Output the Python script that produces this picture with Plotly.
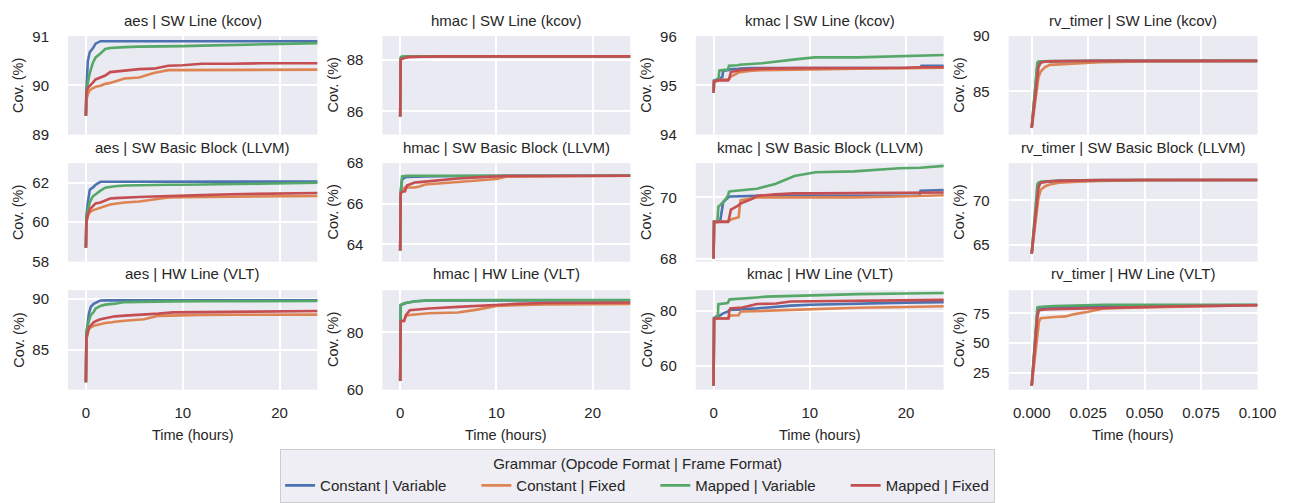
import plotly.graph_objects as go

W, H = 1311, 503

SERIES = ["Constant | Variable", "Constant | Fixed", "Mapped | Variable", "Mapped | Fixed"]
COLORS = ["#4C72B0", "#DD8452", "#55A868", "#C44E52"]
TARGETS = ["aes", "hmac", "kmac", "rv_timer"]
METRICS = ["SW Line (kcov)", "SW Basic Block (LLVM)", "HW Line (VLT)"]
X_TICKS_HOURS = [0, 10, 20]
X_TICKS_RV = [0.0, 0.025, 0.05, 0.075, 0.1]

# ---------------- Row 1: SW Line (kcov) ----------------
T_AES_KCOV = [0, 0.05, 0.2, 0.4, 0.7, 1.0, 1.5, 2, 2.5, 3, 4, 5.5, 7, 8.5, 10, 12, 15, 18, 24]
AES_KCOV_CV = [89.38, 89.9, 90.5, 90.68, 90.75, 90.85, 90.9, 90.9, 90.9, 90.9, 90.9, 90.9, 90.9, 90.9, 90.9, 90.9, 90.9, 90.9, 90.9]
AES_KCOV_CF = [89.38, 89.7, 89.82, 89.9, 89.94, 89.97, 89.99, 90.03, 90.05, 90.08, 90.14, 90.16, 90.25, 90.31, 90.31, 90.31, 90.32, 90.32, 90.32]
AES_KCOV_MV = [89.38, 89.9, 90.05, 90.25, 90.45, 90.57, 90.65, 90.74, 90.76, 90.77, 90.78, 90.79, 90.79, 90.8, 90.8, 90.81, 90.82, 90.84, 90.86]
AES_KCOV_MF = [89.38, 89.85, 89.95, 90.0, 90.05, 90.12, 90.16, 90.2, 90.27, 90.28, 90.3, 90.33, 90.34, 90.4, 90.41, 90.44, 90.44, 90.45, 90.45]

T_HMAC_KCOV = [0, 0.05, 0.15, 0.3, 0.6, 1, 2, 5, 24]
HMAC_KCOV_CV = [85.8, 88.05, 88.1, 88.12, 88.13, 88.14, 88.14, 88.14, 88.14]
HMAC_KCOV_CF = [85.8, 88.0, 88.05, 88.08, 88.1, 88.12, 88.13, 88.14, 88.14]
HMAC_KCOV_MV = [85.8, 88.1, 88.13, 88.14, 88.14, 88.14, 88.14, 88.14, 88.14]
HMAC_KCOV_MF = [85.8, 88.0, 88.04, 88.07, 88.1, 88.12, 88.13, 88.14, 88.14]

T_KMAC_KCOV = [0, 0.05, 0.5, 0.6, 0.9, 1.0, 1.5, 1.6, 1.8, 2.5, 2.7, 4, 5, 8.5, 10.5, 15, 20, 21.5, 21.6, 24]
KMAC_KCOV_CV = [94.85, 95.1, 95.13, 95.15, 95.16, 95.3, 95.31, 95.32, 95.33, 95.33, 95.34, 95.35, 95.35, 95.35, 95.35, 95.36, 95.36, 95.36, 95.4, 95.4]
KMAC_KCOV_CF = [94.85, 95.08, 95.1, 95.11, 95.11, 95.12, 95.12, 95.13, 95.18, 95.25, 95.27, 95.3, 95.31, 95.32, 95.33, 95.34, 95.35, 95.35, 95.35, 95.36]
KMAC_KCOV_MV = [94.85, 95.1, 95.12, 95.3, 95.31, 95.31, 95.32, 95.4, 95.4, 95.41, 95.42, 95.44, 95.45, 95.53, 95.57, 95.57, 95.59, 95.6, 95.6, 95.62]
KMAC_KCOV_MF = [94.85, 95.08, 95.1, 95.1, 95.1, 95.1, 95.1, 95.12, 95.27, 95.3, 95.31, 95.33, 95.34, 95.35, 95.35, 95.36, 95.36, 95.37, 95.37, 95.37]

T_RV_KCOV = [0, 0.0025, 0.003, 0.004, 0.006, 0.008, 0.012, 0.02, 0.03, 0.05, 0.1]
RV_KCOV_CV = [81.7, 87.3, 87.6, 87.7, 87.72, 87.73, 87.74, 87.75, 87.76, 87.76, 87.76]
RV_KCOV_CF = [81.7, 85.5, 86.3, 86.8, 87.2, 87.4, 87.45, 87.5, 87.65, 87.72, 87.76]
RV_KCOV_MV = [81.7, 87.6, 87.7, 87.72, 87.73, 87.74, 87.75, 87.75, 87.76, 87.76, 87.76]
RV_KCOV_MF = [81.7, 86.5, 87.2, 87.6, 87.7, 87.72, 87.74, 87.75, 87.76, 87.76, 87.76]

# ---------------- Row 2: SW Basic Block (LLVM) ----------------
T_AES_LLVM = [0, 0.05, 0.2, 0.4, 0.7, 1.0, 1.5, 2, 2.5, 3, 4, 5.5, 7, 8.5, 10, 12, 15, 18, 24]
AES_LLVM_CV = [58.7, 60.3, 61.0, 61.65, 61.75, 61.9, 62.05, 62.05, 62.05, 62.05, 62.05, 62.05, 62.05, 62.05, 62.05, 62.05, 62.05, 62.06, 62.06]
AES_LLVM_CF = [58.7, 60.0, 60.3, 60.5, 60.6, 60.65, 60.7, 60.8, 60.9, 60.93, 61.0, 61.05, 61.15, 61.25, 61.27, 61.28, 61.3, 61.32, 61.33]
AES_LLVM_MV = [58.7, 60.3, 60.6, 61.0, 61.3, 61.42, 61.6, 61.75, 61.8, 61.82, 61.86, 61.88, 61.88, 61.9, 61.9, 61.92, 61.93, 61.95, 62.0]
AES_LLVM_MF = [58.7, 60.0, 60.4, 60.65, 60.8, 60.95, 61.0, 61.1, 61.2, 61.22, 61.25, 61.28, 61.3, 61.33, 61.35, 61.37, 61.42, 61.45, 61.48]

T_HMAC_LLVM = [0, 0.05, 0.2, 0.5, 0.7, 1.0, 1.5, 2, 2.6, 4, 6, 8, 10, 11, 24]
HMAC_LLVM_CV = [63.7, 66.5, 67.2, 67.3, 67.32, 67.33, 67.34, 67.35, 67.35, 67.36, 67.37, 67.37, 67.38, 67.38, 67.38]
HMAC_LLVM_CF = [63.7, 66.5, 66.7, 66.8, 66.8, 66.8, 66.8, 66.85, 66.95, 67.0, 67.08, 67.15, 67.22, 67.33, 67.38]
HMAC_LLVM_MV = [63.7, 66.6, 67.35, 67.38, 67.38, 67.38, 67.38, 67.38, 67.38, 67.38, 67.38, 67.38, 67.38, 67.38, 67.39]
HMAC_LLVM_MF = [63.7, 66.5, 66.6, 66.62, 66.9, 66.95, 67.05, 67.07, 67.1, 67.15, 67.25, 67.3, 67.33, 67.37, 67.38]

T_KMAC_LLVM = [0, 0.05, 0.4, 0.5, 0.7, 1.0, 1.5, 1.6, 1.8, 2.5, 2.6, 2.8, 4, 4.5, 6.4, 8.4, 10.6, 14.6, 19.3, 21.4, 21.5, 24]
KMAC_LLVM_CV = [68.0, 69.2, 69.2, 69.22, 69.25, 69.85, 70.0, 70.02, 70.03, 70.04, 70.04, 70.04, 70.05, 70.05, 70.05, 70.05, 70.06, 70.06, 70.06, 70.06, 70.22, 70.24]
KMAC_LLVM_CF = [68.0, 69.2, 69.2, 69.2, 69.2, 69.2, 69.2, 69.22, 69.28, 69.33, 69.35, 69.9, 69.98, 70.0, 70.0, 70.0, 70.0, 70.0, 70.03, 70.04, 70.04, 70.07]
KMAC_LLVM_MV = [68.0, 69.2, 69.22, 69.7, 69.75, 69.84, 70.05, 70.18, 70.2, 70.22, 70.22, 70.23, 70.26, 70.28, 70.44, 70.7, 70.82, 70.85, 70.95, 70.97, 70.97, 71.03]
KMAC_LLVM_MF = [68.0, 69.2, 69.2, 69.2, 69.2, 69.2, 69.2, 69.3, 69.6, 69.72, 69.74, 69.8, 69.95, 70.05, 70.1, 70.13, 70.13, 70.14, 70.15, 70.15, 70.15, 70.16]

T_RV_LLVM = [0, 0.0025, 0.003, 0.004, 0.006, 0.008, 0.012, 0.02, 0.03, 0.05, 0.1]
RV_LLVM_CV = [64.0, 71.3, 71.9, 72.05, 72.1, 72.15, 72.2, 72.25, 72.28, 72.3, 72.3]
RV_LLVM_CF = [64.0, 69.0, 70.3, 71.2, 71.6, 71.8, 72.0, 72.1, 72.2, 72.28, 72.3]
RV_LLVM_MV = [64.0, 71.8, 72.0, 72.1, 72.15, 72.2, 72.22, 72.25, 72.28, 72.3, 72.3]
RV_LLVM_MF = [64.0, 70.5, 71.5, 72.0, 72.1, 72.15, 72.2, 72.25, 72.28, 72.3, 72.3]

# ---------------- Row 3: HW Line (VLT) ----------------
T_AES_VLT = [0, 0.05, 0.3, 0.5, 0.8, 1.0, 1.5, 2, 2.7, 3, 4, 5.5, 6, 7.5, 9, 12, 15.5, 18, 24]
AES_VLT_CV = [81.8, 86.5, 88.5, 89.2, 89.5, 89.6, 89.84, 89.85, 89.85, 89.85, 89.85, 89.85, 89.85, 89.85, 89.85, 89.85, 89.85, 89.85, 89.85]
AES_VLT_CF = [81.8, 86.0, 87.0, 87.2, 87.35, 87.4, 87.55, 87.62, 87.7, 87.75, 87.84, 87.95, 88.0, 88.33, 88.38, 88.42, 88.44, 88.45, 88.45]
AES_VLT_MV = [81.8, 86.8, 87.8, 88.4, 88.7, 89.05, 89.3, 89.43, 89.5, 89.52, 89.68, 89.72, 89.73, 89.74, 89.75, 89.76, 89.77, 89.78, 89.78]
AES_VLT_MF = [81.8, 86.2, 87.15, 87.4, 87.7, 87.8, 88.0, 88.1, 88.25, 88.28, 88.35, 88.42, 88.45, 88.55, 88.67, 88.7, 88.78, 88.8, 88.8]

T_HMAC_VLT = [0, 0.05, 0.4, 0.6, 1.0, 1.5, 3, 6, 8, 10, 12, 15, 24]
HMAC_VLT_CV = [63.0, 89.5, 90.0, 90.3, 90.6, 90.9, 91.2, 91.25, 91.3, 91.3, 91.3, 91.3, 91.3]
HMAC_VLT_CF = [63.0, 84.0, 84.0, 85.9, 86.1, 86.3, 86.7, 87.0, 88.0, 89.3, 89.6, 89.8, 90.0]
HMAC_VLT_MV = [63.0, 89.7, 90.2, 90.3, 90.6, 90.85, 91.3, 91.3, 91.3, 91.3, 91.3, 91.3, 91.35]
HMAC_VLT_MF = [63.0, 84.0, 84.0, 86.1, 87.8, 88.0, 88.4, 88.95, 89.3, 89.8, 90.0, 90.3, 90.5]

T_KMAC_VLT = [0, 0.05, 0.3, 0.44, 0.5, 1.0, 1.46, 1.56, 1.63, 1.73, 2.6, 2.8, 3.0, 4.5, 5.5, 6.5, 8, 10, 12, 15, 20, 24]
KMAC_VLT_CV = [52.7, 77.5, 78.0, 78.0, 78.0, 79.2, 79.8, 80.0, 80.35, 80.4, 80.5, 80.6, 80.7, 81.0, 81.3, 81.6, 82.0, 82.3, 82.5, 82.8, 83.1, 83.3]
KMAC_VLT_CF = [52.7, 77.2, 77.3, 77.3, 77.3, 77.3, 77.4, 77.6, 78.2, 78.4, 78.5, 79.8, 79.85, 80.0, 80.35, 80.4, 80.5, 80.8, 81.0, 81.2, 81.5, 81.8]
KMAC_VLT_MV = [52.7, 77.4, 78.0, 78.0, 82.5, 82.8, 82.96, 83.5, 84.23, 84.3, 84.6, 84.65, 84.7, 85.0, 85.3, 85.4, 85.6, 85.9, 86.0, 86.2, 86.45, 86.6]
KMAC_VLT_MF = [52.7, 77.2, 77.3, 77.3, 77.3, 77.3, 77.3, 77.3, 80.0, 80.95, 81.2, 81.25, 81.3, 82.6, 82.7, 82.8, 83.5, 83.6, 83.7, 83.8, 83.95, 84.1]

T_RV_VLT = [0, 0.0025, 0.0032, 0.004, 0.006, 0.01, 0.015, 0.0185, 0.025, 0.032, 0.04, 0.06, 0.08, 0.1]
RV_VLT_CV = [14.2, 76.0, 78.5, 79.2, 79.5, 80.0, 80.3, 80.5, 80.8, 81.0, 81.3, 81.6, 81.9, 82.0]
RV_VLT_CF = [14.2, 60.0, 68.0, 71.0, 71.5, 72.0, 72.5, 74.2, 76.4, 79.1, 79.5, 80.5, 81.3, 81.8]
RV_VLT_MV = [14.2, 79.9, 80.3, 80.5, 80.8, 81.2, 81.5, 81.8, 82.0, 82.2, 82.3, 82.3, 82.3, 82.3]
RV_VLT_MF = [14.2, 72.0, 77.7, 78.0, 78.3, 78.6, 78.8, 79.0, 79.5, 80.0, 80.4, 80.8, 81.3, 81.8]

PANEL_DATA = [
    [(T_AES_KCOV, [AES_KCOV_CV, AES_KCOV_CF, AES_KCOV_MV, AES_KCOV_MF]),
     (T_HMAC_KCOV, [HMAC_KCOV_CV, HMAC_KCOV_CF, HMAC_KCOV_MV, HMAC_KCOV_MF]),
     (T_KMAC_KCOV, [KMAC_KCOV_CV, KMAC_KCOV_CF, KMAC_KCOV_MV, KMAC_KCOV_MF]),
     (T_RV_KCOV, [RV_KCOV_CV, RV_KCOV_CF, RV_KCOV_MV, RV_KCOV_MF])],
    [(T_AES_LLVM, [AES_LLVM_CV, AES_LLVM_CF, AES_LLVM_MV, AES_LLVM_MF]),
     (T_HMAC_LLVM, [HMAC_LLVM_CV, HMAC_LLVM_CF, HMAC_LLVM_MV, HMAC_LLVM_MF]),
     (T_KMAC_LLVM, [KMAC_LLVM_CV, KMAC_LLVM_CF, KMAC_LLVM_MV, KMAC_LLVM_MF]),
     (T_RV_LLVM, [RV_LLVM_CV, RV_LLVM_CF, RV_LLVM_MV, RV_LLVM_MF])],
    [(T_AES_VLT, [AES_VLT_CV, AES_VLT_CF, AES_VLT_MV, AES_VLT_MF]),
     (T_HMAC_VLT, [HMAC_VLT_CV, HMAC_VLT_CF, HMAC_VLT_MV, HMAC_VLT_MF]),
     (T_KMAC_VLT, [KMAC_VLT_CV, KMAC_VLT_CF, KMAC_VLT_MV, KMAC_VLT_MF]),
     (T_RV_VLT, [RV_VLT_CV, RV_VLT_CF, RV_VLT_MV, RV_VLT_MF])],
]

# ---------------- layout geometry (pixels) ----------------
COL_PX = [(69, 322), (388, 639.5), (706, 957.5), (1023.5, 1276)]
ROW_PX = [(28, 130), (159.5, 261.5), (291, 394)]
TITLE_Y_PX = [12, 143, 274]
Y_RANGES = [
    [(88.995, 91.005), (85.1, 88.93), (93.995, 96.005), (81.1, 90.005)],
    [(57.99, 63.0), (63.15, 68.005), (67.9, 71.12), (63.1, 74.2)],
    [(81.08, 90.85), (59.99, 94.8), (51.3, 87.65), (11.0, 94.5)],
]
Y_DTICK = [[1, 2, 1, 5], [2, 2, 2, 5], [5, 20, 20, 25]]
X_RANGE_HOURS = (-1.85, 23.9)
X_RANGE_RV = (-0.0102, 0.1)

FONT = "Liberation Sans, Arial, sans-serif"
TXT = "#262626"
BG = "#EAEAF2"
PAD = "\u00a0" * 6


def xd(px):
    return px / W


def yd(px):
    return 1 - px / H


fig = go.Figure()
layout = dict(
    width=W, height=H,
    margin=dict(l=0, r=0, t=0, b=0),
    paper_bgcolor="white", plot_bgcolor=BG,
    font=dict(family=FONT, color=TXT, size=15),
    showlegend=True,
)
annotations = []

for r in range(3):
    for c in range(4):
        k = r * 4 + c + 1
        xname = "xaxis" if k == 1 else f"xaxis{k}"
        yname = "yaxis" if k == 1 else f"yaxis{k}"
        xref = "x" if k == 1 else f"x{k}"
        yref = "y" if k == 1 else f"y{k}"
        t, vals = PANEL_DATA[r][c]
        for s in range(4):
            label = SERIES[s] + (PAD if s < 3 else "")
            fig.add_trace(go.Scatter(
                x=t, y=vals[s], mode="lines", name=label,
                line=dict(color=COLORS[s], width=2.6),
                legendgroup=SERIES[s], showlegend=(k == 1),
                xaxis=xref, yaxis=yref, hoverinfo="skip",
            ))
        x0, x1 = COL_PX[c]
        y0, y1 = ROW_PX[r]
        is_rv = (c == 3)
        xa = dict(
            domain=[xd(x0), xd(x1)], anchor=yref,
            range=list(X_RANGE_RV if is_rv else X_RANGE_HOURS),
            showgrid=True, gridcolor="white", gridwidth=1.6,
            zeroline=False, showline=False, ticks="",
            showticklabels=(r == 2),
            tickfont=dict(size=15, color=TXT),
            ticklabelstandoff=12,
        )
        if is_rv:
            xa.update(tickmode="array", tickvals=X_TICKS_RV,
                      ticktext=[f"{v:.3f}" for v in X_TICKS_RV])
        else:
            xa.update(tickmode="array", tickvals=X_TICKS_HOURS,
                      ticktext=[str(v) for v in X_TICKS_HOURS])
        ya = dict(
            domain=[yd(y1), yd(y0)], anchor=xref,
            range=list(Y_RANGES[r][c]),
            tickmode="linear", tick0=0, dtick=Y_DTICK[r][c],
            showgrid=True, gridcolor="white", gridwidth=1.6,
            zeroline=False, showline=False, ticks="",
            tickfont=dict(size=15, color=TXT),
            ticklabelstandoff=18,
        )
        layout[xname] = xa
        layout[yname] = ya

        annotations.append(dict(
            text=f"{TARGETS[c]} | {METRICS[r]}", xref="paper", yref="paper",
            x=xd((x0 + x1) / 2), y=yd(TITLE_Y_PX[r]), xanchor="center", yanchor="middle",
            showarrow=False, font=dict(size=15, color=TXT),
        ))
        annotations.append(dict(
            text="Cov. (%)", xref="paper", yref="paper", textangle=-90,
            x=xd(x0 - 50), y=yd((y0 + y1) / 2), xanchor="center", yanchor="middle",
            showarrow=False, font=dict(size=14.5, color=TXT),
        ))
        if r == 2:
            annotations.append(dict(
                text="Time (hours)", xref="paper", yref="paper",
                x=xd((x0 + x1) / 2), y=yd(441), xanchor="center", yanchor="middle",
                showarrow=False, font=dict(size=14.5, color=TXT),
            ))

layout["annotations"] = annotations
layout["legend"] = dict(
    orientation="h", x=xd(647), xanchor="center", y=yd(455), yanchor="top",
    bgcolor="#EEEEF4", bordercolor="#CDCDCD", borderwidth=1,
    font=dict(size=15, color=TXT),
    title=dict(text="Grammar (Opcode Format | Frame Format)", side="top center",
               font=dict(size=15, color=TXT)),
    entrywidthmode="pixels", entrywidth=0,
    tracegroupgap=0,
)
fig.update_layout(**layout)
fig.write_html(
    "out.html",
    config={"displayModeBar": False},
    post_script="document.documentElement.style.margin='0';document.body.style.margin='0';",
)
